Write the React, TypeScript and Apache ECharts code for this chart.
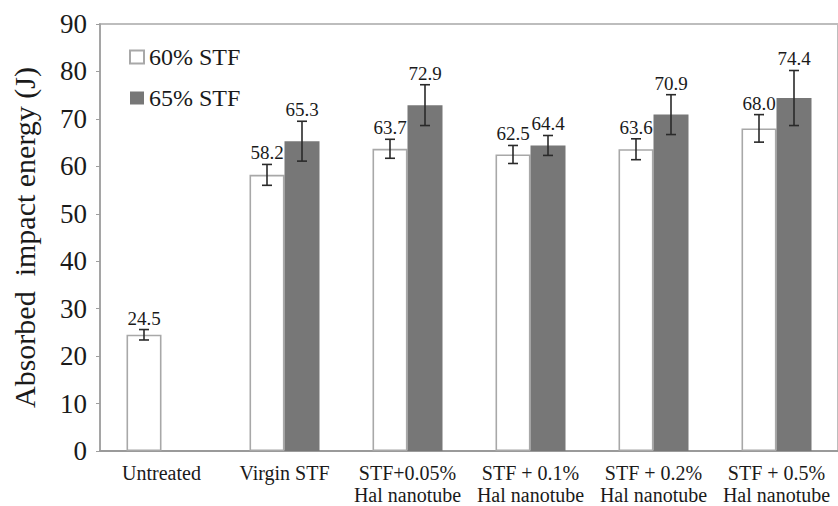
import React, { useEffect, useRef } from "react";
import * as echarts from "echarts";

const categories = [
  "Untreated",
  "Virgin STF",
  "STF+0.05%\nHal nanotube",
  "STF + 0.1%\nHal nanotube",
  "STF + 0.2%\nHal nanotube",
  "STF + 0.5%\nHal nanotube",
];
const seriesNames = ["60% STF", "65% STF"];
const values60 = [24.5, 58.2, 63.7, 62.5, 63.6, 68.0];
const values65: (number | null)[] = [null, 65.3, 72.9, 64.4, 70.9, 74.4];
const err60 = [1.1, 2.2, 2.0, 1.9, 2.2, 2.9];
const err65: (number | null)[] = [null, 4.2, 4.3, 2.1, 4.2, 5.8];
const yTicks = { min: 0, max: 90, interval: 10 };

const FONT = "Liberation Serif";
const BAR_W = 35;

export default function App() {
  const ref = useRef<HTMLDivElement>(null);
  useEffect(() => {
    if (!ref.current) return;
    const chart = echarts.init(ref.current, undefined, { renderer: "svg" });

    const errData: any[] = [];
    values60.forEach((v, i) => {
      if (v != null && err60[i] != null) errData.push([i, v, err60[i], 0]);
    });
    values65.forEach((v, i) => {
      if (v != null && err65[i] != null) errData.push([i, v, err65[i], 1]);
    });

    const renderErr = (params: any, api: any) => {
      const idx = api.value(0);
      const val = api.value(1);
      const e = api.value(2);
      const s = api.value(3);
      const off = s === 0 ? -BAR_W / 2 : BAR_W / 2;
      const top = api.coord([idx, val + e]);
      const bot = api.coord([idx, val - e]);
      const x = top[0] + off;
      const cap = 5;
      const lineStyle = { stroke: "#2a2a2a", lineWidth: 1.6 };
      return {
        type: "group",
        children: [
          { type: "line", shape: { x1: x, y1: top[1], x2: x, y2: bot[1] }, style: lineStyle },
          { type: "line", shape: { x1: x - cap, y1: top[1], x2: x + cap, y2: top[1] }, style: lineStyle },
          { type: "line", shape: { x1: x - cap, y1: bot[1], x2: x + cap, y2: bot[1] }, style: lineStyle },
          {
            type: "text",
            style: {
              text: Number(val).toFixed(1),
              x: x,
              y: top[1] - 2,
              align: "center",
              verticalAlign: "bottom",
              fontSize: 19,
              fontFamily: FONT,
              fill: "#1a1a1a",
            },
          },
        ],
      };
    };

    chart.setOption({
      animation: false,
      backgroundColor: "#ffffff",
      textStyle: { fontFamily: FONT },
      grid: {
        left: 100,
        top: 24,
        width: 741,
        height: 427,
        show: true,
        borderColor: "#bdbdbd",
        borderWidth: 2,
        backgroundColor: "transparent",
      },
      legend: {
        orient: "vertical",
        left: 129,
        top: 45,
        padding: 0,
        icon: "rect",
        itemWidth: 14,
        itemHeight: 13,
        itemGap: 17,
        itemTextGap: 4,
        textStyle: { fontSize: 24, fontFamily: FONT, color: "#1a1a1a" },
        data: seriesNames,
      },
      xAxis: {
        type: "category",
        data: categories,
        axisLine: { show: true, lineStyle: { color: "#9a9a9a", width: 2 } },
        axisTick: { show: false },
        axisLabel: {
          fontSize: 20,
          lineHeight: 22,
          fontFamily: FONT,
          color: "#1a1a1a",
          margin: 11,
          interval: 0,
        },
      },
      yAxis: {
        type: "value",
        min: yTicks.min,
        max: yTicks.max,
        interval: yTicks.interval,
        name: "Absorbed  impact energy (J)",
        nameLocation: "middle",
        nameGap: 61,
        nameTextStyle: { fontSize: 30, fontFamily: FONT, color: "#1a1a1a" },
        axisLine: { show: true, lineStyle: { color: "#9e9e9e", width: 1.5 } },
        axisTick: { show: true, length: 4, lineStyle: { color: "#9e9e9e" } },
        splitLine: { show: false },
        axisLabel: { fontSize: 27, fontFamily: FONT, color: "#1a1a1a", margin: 13 },
      },
      series: [
        {
          name: seriesNames[0],
          type: "bar",
          data: values60,
          barWidth: BAR_W,
          barGap: "0%",
          itemStyle: { color: "#ffffff", borderColor: "#a8a8a8", borderWidth: 1.6 },
        },
        {
          name: seriesNames[1],
          type: "bar",
          data: values65,
          barWidth: BAR_W,
          barGap: "0%",
          itemStyle: { color: "#777777" },
        },
        {
          type: "custom",
          renderItem: renderErr,
          data: errData,
          z: 10,
          silent: true,
        },
      ],
    });
    return () => chart.dispose();
  }, []);
  return (
    <div
      ref={ref}
      style={{ position: "fixed", left: 0, top: 0, width: 838, height: 506 }}
    />
  );
}
